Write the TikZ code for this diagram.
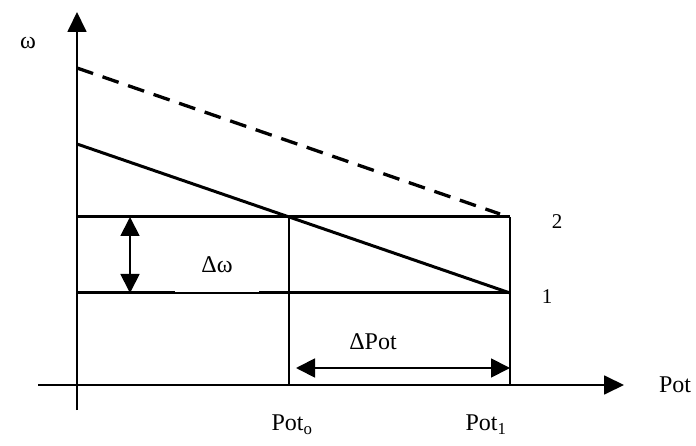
\documentclass[tikz,border=0pt]{standalone}
\usepackage{fontspec}
\setmainfont{Liberation Serif}
\usetikzlibrary{arrows.meta}
\begin{document}
\begin{tikzpicture}[x=1pt,y=-1pt,
  axis/.style={line width=1.8pt},
  thick line/.style={line width=3pt},
  thin line/.style={line width=1.1pt},
  bigtip/.style={-{Triangle[length=20pt,width=19pt]}},
  dimtip/.style={{Triangle[length=19pt,width=19pt]}-{Triangle[length=19pt,width=19pt]}, line width=1.8pt},
  lbl/.style={font=\fontsize{24}{28}\selectfont, inner sep=0pt},
  num/.style={font=\fontsize{21}{24}\selectfont, inner sep=0pt}]
\useasboundingbox (0,0) rectangle (696,446);
% axes
\coordinate (ybot) at (77,410);
\coordinate (ytop) at (77,12);
\coordinate (xl) at (38,385);
\coordinate (xr) at (624,385);
\draw[axis,bigtip] (ybot) -- (ytop);
\draw[axis,bigtip] (xl) -- (xr);
% key points
\coordinate (d0) at (77,68);
\coordinate (d1) at (500,214);
\coordinate (s0) at (77,144);
\coordinate (s1) at (510,293);
\coordinate (h2a) at (77,217);
\coordinate (h2b) at (510,217);
\coordinate (h1a) at (77,293);
\coordinate (v0a) at (289,217);
\coordinate (v0b) at (289,385);
\coordinate (v1b) at (510,385);
% lines
\draw[line width=3.3pt, dash pattern=on 17pt off 10pt] (d0) -- (d1);
\draw[thick line] (s0) -- (s1);
\draw[thick line] (h2a) -- (h2b);
\draw[thick line] (h1a) -- (s1);
\fill[white] (175,240) rectangle (259,292.2);
\draw[thin line] (v0a) -- (v0b);
\draw[line width=1.8pt] (h2b) -- (v1b);
% delta omega arrow
\coordinate (dwa) at (130,217);
\coordinate (dwb) at (130,293);
\draw[dimtip] (dwa) -- (dwb);
% delta Pot arrow
\coordinate (dpa) at (296,368);
\coordinate (dpb) at (510,368);
\draw[dimtip] (dpa) -- (dpb);
% labels
\node[lbl] (omega) at (28,43) {ω};
\node[lbl] (dw) at (217,265) {Δω};
\node[lbl] (dpot) at (373,342) {ΔPot};
\node[lbl] (pot) at (675,385) {Pot};
\node[lbl] (pot0) at (292,425) {Pot\textsubscript{o}};
\node[lbl] (pot1) at (486,425) {Pot\textsubscript{1}};
\node[num] (two) at (557,222) {2};
\node[num] (one) at (547,297) {1};
\end{tikzpicture}
\end{document}
